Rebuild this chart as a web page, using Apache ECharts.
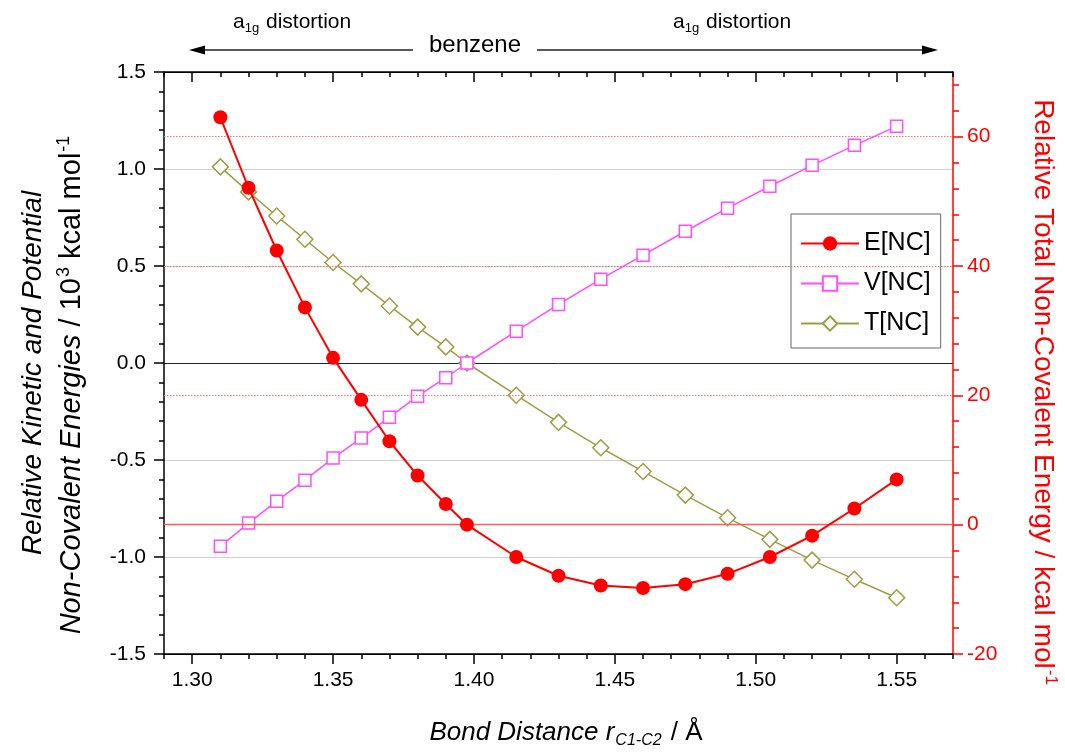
<!DOCTYPE html>
<html>
<head>
<meta charset="utf-8">
<script src="https://cdn.jsdelivr.net/npm/echarts@6/dist/echarts.min.js"></script>
<style>
  html, body { margin: 0; padding: 0; background: #fff; }
  #chart { width: 1065px; height: 754px; }
</style>
</head>
<body>
<div id="chart"></div>
<script>
// C1-C2 bond distance (Å); 1.3975 is the benzene reference geometry
const bondDistance = [1.31, 1.32, 1.33, 1.34, 1.35, 1.36, 1.37, 1.38, 1.39, 1.3975,
                      1.415, 1.43, 1.445, 1.46, 1.475, 1.49, 1.505, 1.52, 1.535, 1.55];
// Relative total non-covalent energy E[NC] (kcal/mol, right axis)
const totalNC = [63.0, 52.1, 42.4, 33.6, 25.8, 19.3, 12.9, 7.6, 3.2, 0.0,
                 -5.0, -7.9, -9.4, -9.8, -9.2, -7.6, -5.0, -1.7, 2.5, 7.0];
// Relative potential energy V[NC] (10^3 kcal/mol, left axis)
const potentialNC = [-0.945, -0.825, -0.712, -0.604, -0.490, -0.387, -0.279, -0.171, -0.076, 0.0,
                     0.164, 0.302, 0.432, 0.556, 0.679, 0.798, 0.911, 1.019, 1.122, 1.220];
// Relative kinetic energy T[NC] (10^3 kcal/mol, left axis)
const kineticNC = [1.011, 0.882, 0.758, 0.638, 0.518, 0.408, 0.294, 0.185, 0.083, 0.0,
                   -0.166, -0.306, -0.437, -0.559, -0.681, -0.798, -0.909, -1.016, -1.115, -1.210];

const seriesNames = ['E[NC]', 'V[NC]', 'T[NC]'];
const xTickLabels = [1.30, 1.35, 1.40, 1.45, 1.50, 1.55];
const rightTickLabels = [-20, 0, 20, 40, 60];
const rightGuideLines = [0, 20, 40, 60];

const X_MIN = 1.29, X_MAX = 1.57;
const R_MIN = -20, R_MAX = 70;

// minor tick positions (every 0.01 Å on x, every 4 kcal/mol on the right axis)
const xMinorTicks = [];
for (let i = 0; i <= 28; i++) {
  const v = +(X_MIN + i * 0.01).toFixed(2);
  if (!xTickLabels.some(t => Math.abs(t - v) < 1e-9)) xMinorTicks.push(v);
}
const rightMinorTicks = [];
for (let v = R_MIN; v <= R_MAX; v += 4) {
  if (!rightTickLabels.includes(v)) rightMinorTicks.push(v);
}

const FONT = '"Liberation Sans", Arial, Helvetica, sans-serif';
const RED = '#ff0000';
const MAGENTA = '#ff4dff';
const OLIVE = '#a09d45';

const pairs = ys => bondDistance.map((x, i) => [x, ys[i]]);

function xAxisDef(position, ticks, len, inside, showLine, showLabel) {
  return {
    type: 'value', position, min: X_MIN, max: X_MAX,
    axisLine: { show: showLine, onZero: false, lineStyle: { color: '#000', width: 1.5 } },
    axisTick: { show: true, inside, length: len, customValues: ticks, lineStyle: { color: '#000', width: 1.5 } },
    axisLabel: showLabel ? {
      show: true, customValues: ticks, formatter: v => v.toFixed(2),
      fontSize: 21, color: '#000', margin: 16, fontFamily: FONT
    } : { show: false },
    splitLine: { show: false }
  };
}

const chart = echarts.init(document.getElementById('chart'), null, { renderer: 'canvas' });

chart.setOption({
  animation: false,
  backgroundColor: '#fff',
  grid: { left: 164, right: 112, top: 72, bottom: 100, containLabel: false },
  xAxis: [
    xAxisDef('bottom', xTickLabels, 10, false, true, true),
    xAxisDef('bottom', xMinorTicks, 5, false, false, false),
    xAxisDef('top', xTickLabels, 10, true, true, false),
    xAxisDef('top', xMinorTicks, 5, true, false, false)
  ],
  yAxis: [
    {
      type: 'value', position: 'left', min: -1.5, max: 1.5, interval: 0.5,
      axisLine: { show: true, onZero: false, lineStyle: { color: '#000', width: 1.5 } },
      axisTick: { show: true, inside: false, length: 10, lineStyle: { color: '#000', width: 1.5 } },
      minorTick: { show: true, splitNumber: 5, length: 5, lineStyle: { color: '#000', width: 1.5 } },
      axisLabel: { formatter: v => v.toFixed(1), fontSize: 21, color: '#000', margin: 18, fontFamily: FONT },
      splitLine: {
        show: true,
        lineStyle: { color: ['#000', '#d0d0d0', '#d0d0d0', '#222', '#d0d0d0', '#d0d0d0', '#000'], width: 1 }
      }
    },
    {
      type: 'value', position: 'right', min: R_MIN, max: R_MAX,
      axisLine: { show: true, onZero: false, lineStyle: { color: RED, width: 1.5 } },
      axisTick: { show: true, inside: false, length: 10, customValues: rightTickLabels, lineStyle: { color: RED, width: 1.5 } },
      axisLabel: { customValues: rightTickLabels, fontSize: 21, color: RED, margin: 14, fontFamily: FONT },
      splitLine: { show: false }
    },
    {
      type: 'value', position: 'right', min: R_MIN, max: R_MAX,
      axisLine: { show: false },
      axisTick: { show: true, inside: false, length: 6, customValues: rightMinorTicks, lineStyle: { color: RED, width: 1.5 } },
      axisLabel: { show: false },
      splitLine: { show: false }
    }
  ],
  legend: {
    orient: 'vertical', left: 791, top: 214,
    data: seriesNames,
    itemWidth: 58, itemHeight: 18, itemGap: 15,
    padding: [17, 10, 12, 9],
    borderColor: '#666', borderWidth: 1, backgroundColor: '#fff',
    textStyle: { fontSize: 25, color: '#000', fontFamily: FONT }
  },
  series: [
    {
      name: seriesNames[2], type: 'line', xAxisIndex: 0, yAxisIndex: 0,
      data: pairs(kineticNC), z: 3,
      symbol: 'diamond', symbolSize: 16,
      lineStyle: { color: OLIVE, width: 1.5 },
      itemStyle: { color: '#fff', borderColor: OLIVE, borderWidth: 1.5 }
    },
    {
      name: seriesNames[1], type: 'line', xAxisIndex: 0, yAxisIndex: 0,
      data: pairs(potentialNC), z: 4,
      symbol: 'rect', symbolSize: 12,
      lineStyle: { color: MAGENTA, width: 1.5 },
      itemStyle: { color: '#fff', borderColor: MAGENTA, borderWidth: 1.5 }
    },
    {
      name: seriesNames[0], type: 'line', xAxisIndex: 0, yAxisIndex: 1,
      data: pairs(totalNC), z: 5,
      symbol: 'circle', symbolSize: 14,
      lineStyle: { color: RED, width: 2 },
      itemStyle: { color: RED },
      markLine: {
        silent: true, symbol: 'none', label: { show: false }, animation: false,
        data: rightGuideLines.map(v => ({
          yAxis: v,
          lineStyle: v === 0
            ? { type: 'solid', color: '#ff5c5c', width: 1.3 }
            : { type: [1.5, 1.5], color: '#ff7070', width: 1 }
        }))
      }
    }
  ],
  graphic: [
    // distortion direction arrows
    { type: 'line', shape: { x1: 413, y1: 50, x2: 200, y2: 50 }, style: { stroke: '#222', lineWidth: 1.5 } },
    { type: 'polygon', shape: { points: [[189, 50], [205, 45.5], [205, 54.5]] }, style: { fill: '#000' } },
    { type: 'line', shape: { x1: 537, y1: 50, x2: 926, y2: 50 }, style: { stroke: '#222', lineWidth: 1.5 } },
    { type: 'polygon', shape: { points: [[938, 50], [922, 45.5], [922, 54.5]] }, style: { fill: '#000' } },
    {
      type: 'text', x: 475, y: 45,
      style: { text: 'benzene', fontSize: 24, fontFamily: FONT, fill: '#000', align: 'center', verticalAlign: 'middle', textAlign: 'center', textVerticalAlign: 'middle' }
    },
    {
      type: 'text', x: 233, y: 22,
      style: {
        text: 'a{sub|1g} distortion', fontSize: 21, fontFamily: FONT, fill: '#000',
        align: 'left', verticalAlign: 'middle', textAlign: 'left', textVerticalAlign: 'middle',
        rich: { sub: { fontSize: 13, fontFamily: FONT, padding: [12, 1, 0, 0] } }
      }
    },
    {
      type: 'text', x: 673, y: 22,
      style: {
        text: 'a{sub|1g} distortion', fontSize: 21, fontFamily: FONT, fill: '#000',
        align: 'left', verticalAlign: 'middle', textAlign: 'left', textVerticalAlign: 'middle',
        rich: { sub: { fontSize: 13, fontFamily: FONT, padding: [12, 1, 0, 0] } }
      }
    },
    // left axis title (two lines)
    {
      type: 'text', x: 33, y: 373, rotation: Math.PI / 2,
      style: {
        text: 'Relative Kinetic and Potential', fontSize: 28, fontStyle: 'italic', fontFamily: FONT, fill: '#000',
        align: 'center', verticalAlign: 'middle', textAlign: 'center', textVerticalAlign: 'middle'
      }
    },
    {
      type: 'text', x: 72, y: 385, rotation: Math.PI / 2,
      style: {
        text: '{it|Non-Covalent Energies} / 10{sup|3} kcal mol{sup|-1}', fontSize: 29, fontFamily: FONT, fill: '#000',
        align: 'center', verticalAlign: 'middle', textAlign: 'center', textVerticalAlign: 'middle',
        rich: {
          it: { fontSize: 29, fontStyle: 'italic', fontFamily: FONT },
          sup: { fontSize: 18, fontFamily: FONT, padding: [0, 0, 15, 1] }
        }
      }
    },
    // right axis title
    {
      type: 'text', x: 1043, y: 392, rotation: -Math.PI / 2,
      style: {
        text: 'Relative Total Non-Covalent Energy / kcal mol{sup|-1}', fontSize: 28, fontFamily: FONT, fill: RED,
        align: 'center', verticalAlign: 'middle', textAlign: 'center', textVerticalAlign: 'middle',
        rich: { sup: { fontSize: 17, fontFamily: FONT, fill: RED, padding: [0, 0, 15, 1] } }
      }
    },
    // x axis title
    {
      type: 'text', x: 566, y: 733,
      style: {
        text: '{it|Bond Distance r}{sub|C1-C2} / Å', fontSize: 26, fontFamily: FONT, fill: '#000',
        align: 'center', verticalAlign: 'middle', textAlign: 'center', textVerticalAlign: 'middle',
        rich: {
          it: { fontSize: 26, fontStyle: 'italic', fontFamily: FONT },
          sub: { fontSize: 16, fontStyle: 'italic', fontFamily: FONT, padding: [16, 2, 0, 1] }
        }
      }
    }
  ]
});
</script>
</body>
</html>
